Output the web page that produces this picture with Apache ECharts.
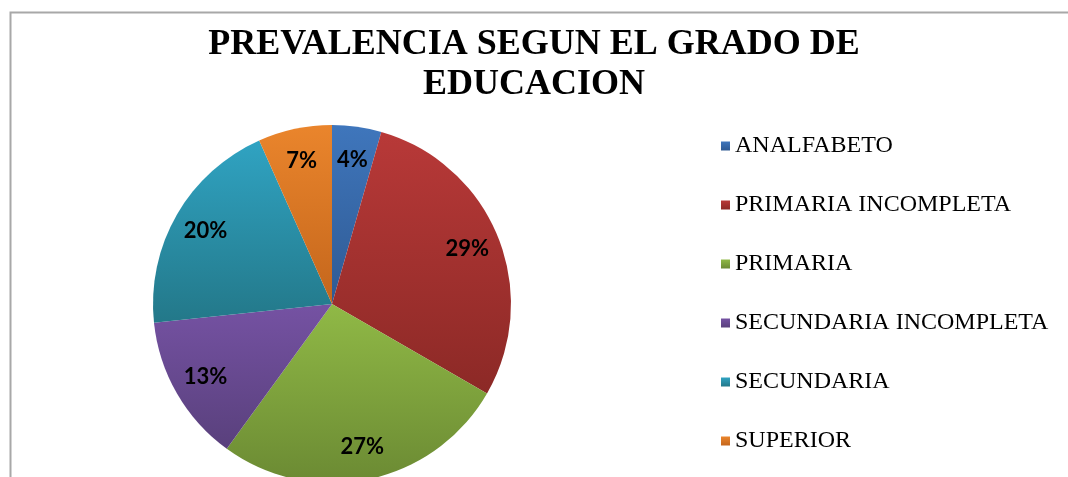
<!DOCTYPE html>
<html>
<head>
<meta charset="utf-8">
<title>Prevalencia segun el grado de educacion</title>
<script src="https://cdn.jsdelivr.net/npm/echarts@6/dist/echarts.min.js"></script>
<style>
  html, body { margin: 0; padding: 0; background: #fff; }
  #chart { width: 1068px; height: 477px; }
</style>
</head>
<body>
<div id="chart"></div>
<script>
// categorias y conteos (2/45 = 4%, 13/45 = 29%, ...)
const categorias = ['ANALFABETO', 'PRIMARIA INCOMPLETA', 'PRIMARIA', 'SECUNDARIA INCOMPLETA', 'SECUNDARIA', 'SUPERIOR']
const conteos = [2, 13, 12, 6, 9, 3]
// color claro arriba / oscuro abajo, como el degradado de Excel
const coloresArriba = ['#3F76BC', '#B83938', '#90B946', '#7552A3', '#30A3C2', '#EA852C']
const coloresAbajo = ['#2F5A93', '#8C2926', '#6B8A33', '#59407C', '#237889', '#C4661C']

const chart = echarts.init(document.getElementById('chart'))

const datos = categorias.map((nombre, i) => ({
  name: nombre,
  value: conteos[i],
  itemStyle: {
    color: new echarts.graphic.LinearGradient(0, 0, 0, 1, [
      { offset: 0, color: coloresArriba[i] },
      { offset: 1, color: coloresAbajo[i] }
    ])
  }
}))

const option = {
  animation: false,
  graphic: [
    {
      type: 'rect',
      left: 8,
      top: 10,
      shape: { width: 1100, height: 500 },
      style: { fill: 'none', stroke: '#A8A8A8', lineWidth: 2 },
      silent: true
    }
  ],
  title: {
    text: 'PREVALENCIA SEGUN EL GRADO DE\nEDUCACION',
    left: 'center',
    top: 20,
    textStyle: {
      fontFamily: 'Liberation Serif',
      fontWeight: 'bold',
      fontSize: 36,
      lineHeight: 40,
      color: '#000'
    }
  },
  legend: {
    orient: 'vertical',
    left: 716,
    top: 129,
    itemWidth: 9,
    itemHeight: 9,
    itemGap: 35,
    icon: 'rect',
    data: categorias,
    textStyle: {
      fontFamily: 'Liberation Serif',
      fontSize: 24,
      color: '#000'
    }
  },
  series: [
    {
      name: 'Grado',
      type: 'pie',
      center: [332, 304],
      radius: 179,
      startAngle: 90,
      clockwise: true,
      label: { show: false },
      labelLine: { show: false },
      data: datos
    },
    {
      // anillo invisible solo para colocar las etiquetas mas afuera
      name: 'Etiquetas',
      type: 'pie',
      center: [332, 304],
      radius: [106, 180],
      startAngle: 90,
      clockwise: true,
      silent: true,
      legendHoverLink: false,
      itemStyle: { color: 'rgba(0,0,0,0)' },
      label: {
        show: true,
        position: 'inside',
        formatter: (p) => Math.round(p.percent) + '%',
        fontFamily: 'Lato',
        fontWeight: 'bold',
        fontSize: 22,
        color: '#000'
      },
      labelLine: { show: false },
      data: categorias.map((nombre, i) => ({ name: nombre, value: conteos[i] }))
    }
  ]
}

chart.setOption(option)
</script>
</body>
</html>
